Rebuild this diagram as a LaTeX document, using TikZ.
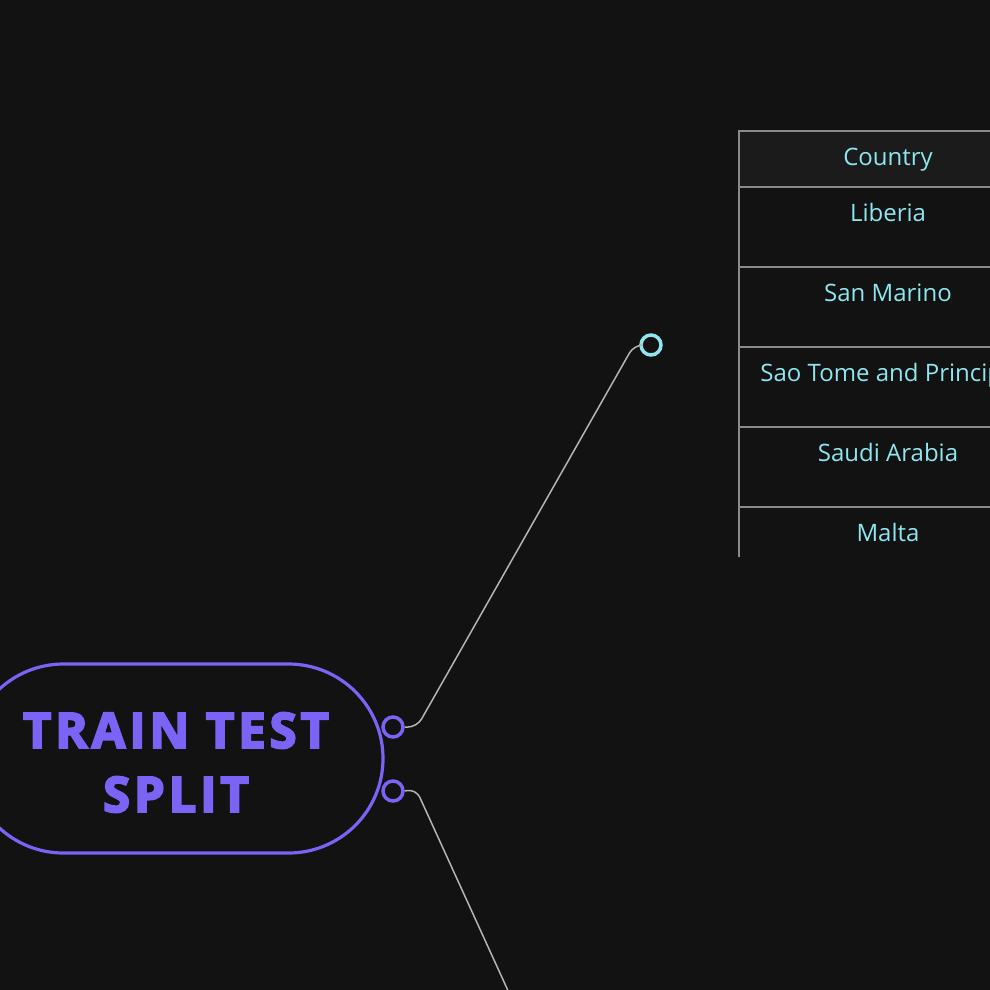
\documentclass[tikz,border=0pt]{standalone}
\usepackage{fontspec}
\setmainfont{Open Sans}
\newfontfamily\titlefont[LetterSpace=8,FakeBold=4]{Open Sans}
\usetikzlibrary{shapes.misc}
\definecolor{bg}{HTML}{121212}
\definecolor{hdr}{HTML}{1B1B1B}
\definecolor{purp}{HTML}{7B63F6}
\definecolor{cyn}{HTML}{8EE6EF}
\definecolor{grid}{HTML}{8A8A8A}
\definecolor{wire}{HTML}{B4B4B4}
\tikzset{
  port/.style={circle, draw=purp, line width=3.5pt, fill=bg, minimum size=20pt, inner sep=0pt},
  cport/.style={circle, draw=cyn, line width=3.5pt, fill=bg, minimum size=20pt, inner sep=0pt},
  wirestyle/.style={draw=wire, line width=1.5pt, rounded corners=9pt},
  cell/.style={text=cyn, font=\fontsize{24}{28}\selectfont, anchor=base, inner sep=0pt},
  gridline/.style={draw=grid, line width=1.8pt}
}
\begin{document}
\begin{tikzpicture}[x=1pt,y=-1pt]
\useasboundingbox (0,0) rectangle (990,990);
\fill[bg] (0,0) rectangle (990,990);
% main node
\node[rounded rectangle, draw=purp, line width=3.2pt, minimum width=414pt, minimum height=189pt, inner sep=0pt] (main) at (176,758.5) {};
\node[text=purp, font=\titlefont\bfseries\fontsize{49}{64}\selectfont, align=center, inner sep=0pt, anchor=base] (title) at (176,812) {TRAIN TEST\\SPLIT};
% ports
\node[port] (p1) at (393,727) {};
\node[port] (p2) at (393,791) {};
\node[cport] (c1) at (651,345) {};
\coordinate (end2) at (510,995);
% wires
\draw[wirestyle] (p1.east) -- (417,727) -- (634,345) -- (c1.west);
\draw[wirestyle] (p2.east) -- (416,789) -- (end2);
% table
\fill[hdr] (739,131) rectangle (995,187);
\draw[gridline] (739,131) -- (995,131);
\draw[gridline] (739,187) -- (995,187);
\draw[gridline] (739,267) -- (995,267);
\draw[gridline] (739,347) -- (995,347);
\draw[gridline] (739,427) -- (995,427);
\draw[gridline] (739,507) -- (995,507);
\draw[gridline] (739,130) -- (739,557);
\node[cell] (h) at (888,165) {Country};
\node[cell] (r1) at (888,221) {Liberia};
\node[cell] (r2) at (888,301) {San Marino};
\node[cell] (r3) at (888,381) {Sao Tome and Principe};
\node[cell] (r4) at (888,461) {Saudi Arabia};
\node[cell] (r5) at (888,541) {Malta};
\end{tikzpicture}
\end{document}
